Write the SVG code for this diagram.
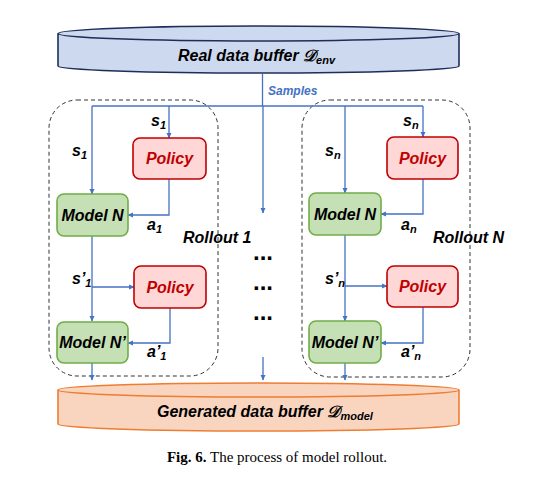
<svg xmlns="http://www.w3.org/2000/svg" width="557" height="493" viewBox="0 0 557 493">
<defs>
<marker id="ah" markerWidth="6" markerHeight="6" refX="5" refY="3" orient="auto" markerUnits="userSpaceOnUse">
<path d="M0,0.5 L5.5,3 L0,5.5 z" fill="#4472C4"/>
</marker>
<style>
.lbl{font-family:"Liberation Sans",Arial,sans-serif;font-weight:bold;font-style:italic;font-size:16px;fill:#000}
.sub{font-size:11px}
.con{fill:none;stroke:#4472C4;stroke-width:1.3;marker-end:url(#ah)}
.plain{fill:none;stroke:#4472C4;stroke-width:1.3}
.policy rect{fill:#FFD7D7;stroke:#C00000;stroke-width:1.6}
.policy text{fill:#C00000}
.model rect{fill:#C5E0B4;stroke:#70AD47;stroke-width:1.6}
.roll{fill:none;stroke:#333;stroke-width:1;stroke-dasharray:4 3}
.dots{font-family:"Liberation Sans",Arial,sans-serif;font-weight:bold;font-size:24px;fill:#000}
</style>
</defs>
<rect width="557" height="493" fill="#fff"/>

<g id="real-buffer">
<path d="M58,33.5 V66 A200.5,7 0 0 0 459,66 V33.5" fill="#CDD9EE" stroke="#1F2D5A" stroke-width="1.6"/>
<ellipse cx="258.5" cy="33.5" rx="200.5" ry="7.5" fill="#CDD9EE" stroke="#1F2D5A" stroke-width="1.6"/>
<text class="lbl" x="178" y="61">Real data buffer  𝒟<tspan class="sub" dy="3">env</tspan></text>
</g>

<g id="rollout-1-frame"><rect class="roll" x="49" y="100" width="169" height="276" rx="28"/></g>
<g id="rollout-n-frame"><rect class="roll" x="302" y="100" width="168" height="277" rx="28"/></g>

<g id="connectors">
<path class="plain" d="M262.5,74 V106"/>
<path class="plain" d="M92,106 H423"/>
<path class="con" d="M92,106 V194"/>
<path class="con" d="M169,106 V138"/>
<path class="con" d="M263,106 V213"/>
<path class="con" d="M345,106 V193"/>
<path class="con" d="M423,106 V137"/>
<path class="con" d="M169,179 V215 H128"/>
<path class="con" d="M423,179 V214 H381"/>
<path class="con" d="M92,236 V321"/>
<path class="con" d="M92,287 H134"/>
<path class="con" d="M170,308 V343 H128"/>
<path class="con" d="M345,235 V321"/>
<path class="con" d="M345,286 H387"/>
<path class="con" d="M423,307 V343 H381"/>
<path class="con" d="M92,363 V380"/>
<path class="con" d="M263,357 V380"/>
<path class="con" d="M345,363 V380"/>
<text x="268" y="95" font-family="Liberation Sans, Arial, sans-serif" font-weight="bold" font-style="italic" font-size="12" fill="#4472C4">Samples</text>
</g>

<g id="policy-1" class="policy"><rect x="133" y="138" width="73" height="41" rx="7"/><text class="lbl" x="169.5" y="164" text-anchor="middle">Policy</text></g>
<g id="model-n-1" class="model"><rect x="57" y="194" width="71" height="42" rx="7"/><text class="lbl" x="92.5" y="221" text-anchor="middle">Model N</text></g>
<g id="policy-1b" class="policy"><rect x="134" y="266" width="72" height="42" rx="7"/><text class="lbl" x="170" y="293" text-anchor="middle">Policy</text></g>
<g id="model-n2-1" class="model"><rect x="57" y="322" width="71" height="41" rx="7"/><text class="lbl" x="92.5" y="348" text-anchor="middle">Model N’</text></g>

<g id="policy-n" class="policy"><rect x="387" y="137" width="71" height="42" rx="7"/><text class="lbl" x="422.5" y="164" text-anchor="middle">Policy</text></g>
<g id="model-n-n" class="model"><rect x="309" y="193" width="72" height="42" rx="7"/><text class="lbl" x="345" y="220" text-anchor="middle">Model N</text></g>
<g id="policy-nb" class="policy"><rect x="387" y="266" width="71" height="41" rx="7"/><text class="lbl" x="422.5" y="292" text-anchor="middle">Policy</text></g>
<g id="model-n2-n" class="model"><rect x="309" y="321" width="72" height="42" rx="7"/><text class="lbl" x="345" y="348" text-anchor="middle">Model N’</text></g>

<g id="labels">
<text class="lbl" x="151" y="126">s<tspan class="sub" dy="3">1</tspan></text>
<text class="lbl" x="72" y="156">s<tspan class="sub" dy="3">1</tspan></text>
<text class="lbl" x="147" y="230">a<tspan class="sub" dy="3">1</tspan></text>
<text class="lbl" x="72" y="284">s’<tspan class="sub" dy="3">1</tspan></text>
<text class="lbl" x="147" y="357">a’<tspan class="sub" dy="3">1</tspan></text>
<text class="lbl" x="183" y="243">Rollout 1</text>
<text class="lbl" x="403" y="126">s<tspan class="sub" dy="3">n</tspan></text>
<text class="lbl" x="325" y="156">s<tspan class="sub" dy="3">n</tspan></text>
<text class="lbl" x="401" y="230">a<tspan class="sub" dy="3">n</tspan></text>
<text class="lbl" x="325" y="284">s’<tspan class="sub" dy="3">n</tspan></text>
<text class="lbl" x="401" y="357">a’<tspan class="sub" dy="3">n</tspan></text>
<text class="lbl" x="433" y="243">Rollout N</text>
<text class="dots" x="263" y="260" text-anchor="middle">...</text>
<text class="dots" x="263" y="290" text-anchor="middle">...</text>
<text class="dots" x="263" y="320" text-anchor="middle">...</text>
</g>

<g id="generated-buffer">
<path d="M58,390 V424 A200.5,7 0 0 0 459,424 V390" fill="#F9D5C0" stroke="#ED7D31" stroke-width="1.6"/>
<ellipse cx="258.5" cy="390" rx="200.5" ry="7" fill="#F9D5C0" stroke="#ED7D31" stroke-width="1.6"/>
<text class="lbl" x="157" y="417">Generated data buffer 𝒟<tspan class="sub" dy="3">model</tspan></text>
</g>

<text x="277" y="462" text-anchor="middle" font-family="Liberation Serif, 'Times New Roman', serif" font-size="15" fill="#000"><tspan font-weight="bold">Fig. 6.</tspan>  The process of model rollout.</text>
</svg>
